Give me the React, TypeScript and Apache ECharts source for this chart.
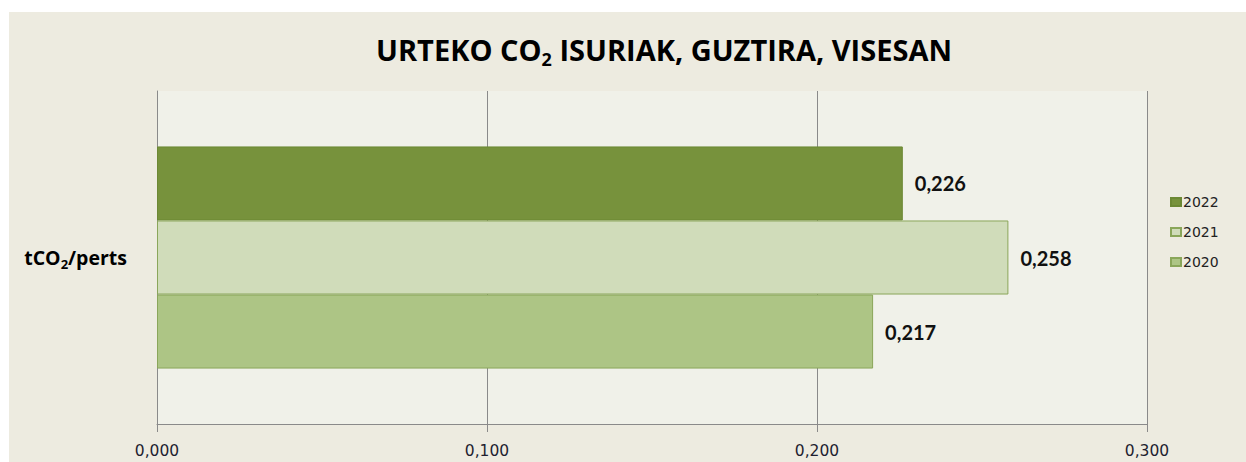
import React, { useEffect, useRef } from "react";
import * as echarts from "echarts";

const categories = ["tCO2/perts"];
const seriesNames = ["2022", "2021", "2020"];
const values2022 = [0.226];
const values2021 = [0.258];
const values2020 = [0.217];
const xTicks = [0, 0.1, 0.2, 0.3];

const fmt = (v: number) => v.toFixed(3).replace(".", ",");

export default function App() {
  const ref = useRef<HTMLDivElement>(null);
  useEffect(() => {
    document.body.style.margin = "0";
    const chart = echarts.init(ref.current!, null, { renderer: "svg" });
    const fills = ["#77923C", "#D0DCBA", "#ADC585"];
    const borders = ["#6C8834", "#8AA65A", "#8AA65A"];
    const data = [values2022, values2021, values2020];
    chart.setOption({
      animation: false,
      backgroundColor: "#ffffff",
      graphic: [
        {
          type: "rect",
          z: -10,
          silent: true,
          shape: { x: 9, y: 12, width: 1246, height: 462 },
          style: { fill: "#EDEBE0" },
        },
      ],
      title: {
        text: "{a|URTEKO CO}{s|2}{a| ISURIAK, GUZTIRA, VISESAN}",
        left: 659,
        top: 26,
        textAlign: "center",
        textStyle: {
          rich: {
            a: { fontFamily: "Open Sans", fontWeight: "bold", fontSize: 29, color: "#000" },
            s: { fontFamily: "Open Sans", fontWeight: "bold", fontSize: 18, color: "#000", padding: [19, 0, 0, 0] },
          },
        },
      },
      legend: {
        orient: "vertical",
        left: 1165,
        top: 189,
        data: ["2022", "2021", "2020"],
        itemWidth: 10,
        itemHeight: 8,
        itemGap: 14,
        icon: "rect",
        textStyle: { fontFamily: "DejaVu Sans", fontSize: 14, color: "#222", lineHeight: 16, padding: [0, 0, 0, -3] },
      },
      grid: { left: 157, right: 99, top: 91, bottom: 38, backgroundColor: "#F0F1E9", show: true, borderWidth: 0 },
      xAxis: {
        type: "value",
        min: xTicks[0],
        max: xTicks[xTicks.length - 1],
        interval: 0.1,
        axisLine: { show: true, lineStyle: { color: "#8a8a8a", width: 1 } },
        axisTick: { show: true, length: 8, lineStyle: { color: "#8a8a8a" } },
        splitLine: { show: true, lineStyle: { color: "#8a8a8a", width: 1 } },
        axisLabel: {
          formatter: (v: number) => fmt(v),
          fontFamily: "DejaVu Sans",
          fontSize: 15.5,
          color: "#1e1e30",
          margin: 19,
        },
      },
      yAxis: {
        type: "category",
        data: categories,
        axisLine: { show: true, lineStyle: { color: "#8a8a8a", width: 1 } },
        axisTick: { show: false },
        axisLabel: {
          margin: 30,
          formatter: () => "{a|tCO}{s|2}{a|/perts}",
          rich: {
            a: { fontFamily: "Open Sans", fontWeight: "bold", fontSize: 19.5, color: "#000" },
            s: { fontFamily: "Open Sans", fontWeight: "bold", fontSize: 13, color: "#000", padding: [13, 0, 0, 0] },
          },
        },
      },
      series: seriesNames.map((name, i) => ({
        name,
        type: "bar",
        data: data[i],
        barGap: "0%",
        barCategoryGap: "33.3%",
        itemStyle: { color: fills[i], borderColor: borders[i], borderWidth: 1 },
        label: {
          show: true,
          position: "right",
          distance: 12,
          formatter: (p: any) => fmt(p.value),
          fontFamily: "Lato",
          fontWeight: "bold",
          fontSize: 20,
          color: "#111",
        },
      })),
    });
    return () => chart.dispose();
  }, []);
  return <div ref={ref} style={{ width: 1246, height: 462 }} />;
}
